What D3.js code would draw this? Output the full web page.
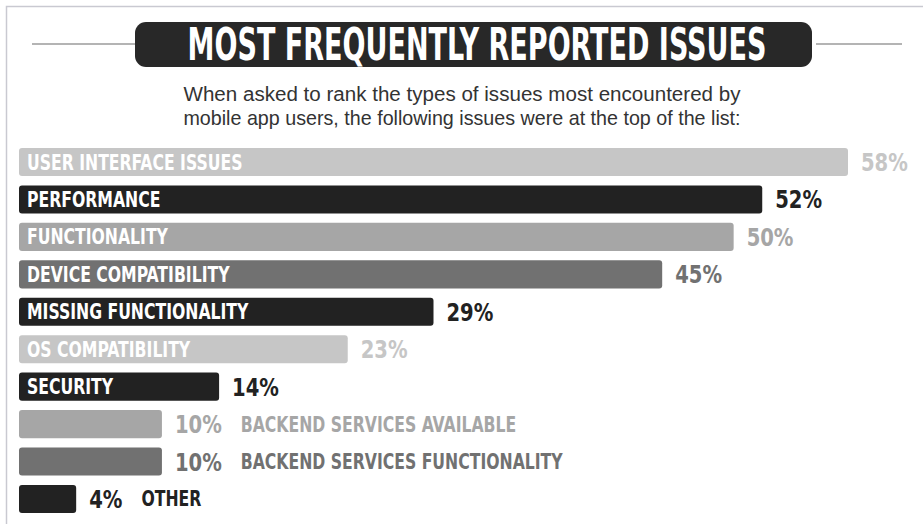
<!DOCTYPE html>
<html>
<head>
<meta charset="utf-8">
<script src="https://cdn.jsdelivr.net/npm/d3@7"></script>
<style>
  body { margin: 0; background: #fff; }
  svg { display: block; }
</style>
</head>
<body>
<div id="chart"></div>
<script>
// data
var titleText = "MOST FREQUENTLY REPORTED ISSUES";
var subtitleLines = [
  "When asked to rank the types of issues most encountered by",
  "mobile app users, the following issues were at the top of the list:"
];
var categories = [
  "USER INTERFACE ISSUES",
  "PERFORMANCE",
  "FUNCTIONALITY",
  "DEVICE COMPATIBILITY",
  "MISSING FUNCTIONALITY",
  "OS COMPATIBILITY",
  "SECURITY",
  "BACKEND SERVICES AVAILABLE",
  "BACKEND SERVICES FUNCTIONALITY",
  "OTHER"
];
var percents = [58, 52, 50, 45, 29, 23, 14, 10, 10, 4];

var data = categories.map(function(c, i) { return {name: c, value: percents[i]}; });

var width = 923, height = 524;
var condensed = "'Liberation Sans Narrow', 'DejaVu Sans Condensed', 'Roboto', sans-serif";

// squeeze a text horizontally around its own x
function squeeze(text, k) {
  var x0 = +text.attr("x");
  text.attr("transform", "translate(" + x0 + ",0) scale(" + k + ",1) translate(" + (-x0) + ",0)");
}

var svg = d3.select("#chart")
  .append("svg")
  .attr("width", width)
  .attr("height", height);

// light frame on top and left
svg.append("path")
  .attr("d", "M6.5,524V6.5H923")
  .attr("fill", "none")
  .attr("stroke", "#c9c9d1")
  .attr("stroke-width", 1.5);

// title pill with side rules
svg.append("line").attr("x1", 32).attr("x2", 135).attr("y1", 44).attr("y2", 44)
  .attr("stroke", "#b4b4b4").attr("stroke-width", 2);
svg.append("line").attr("x1", 816).attr("x2", 902).attr("y1", 44).attr("y2", 44)
  .attr("stroke", "#b4b4b4").attr("stroke-width", 2);

svg.append("rect")
  .attr("x", 135).attr("y", 22)
  .attr("width", 677).attr("height", 45)
  .attr("rx", 11)
  .attr("fill", "#282828");

var title = svg.append("text")
  .attr("x", 477).attr("y", 60)
  .attr("text-anchor", "middle")
  .attr("font-family", condensed)
  .attr("font-weight", "bold")
  .attr("font-size", 45)
  .attr("fill", "#fff")
  .text(titleText);
squeeze(title, 579 / title.node().getComputedTextLength());

// subtitle, both lines set to the same measure as in the original
svg.selectAll(".subtitle")
  .data(subtitleLines)
  .enter()
  .append("text")
    .attr("class", "subtitle")
    .attr("x", 462)
    .attr("y", function(d, i) { return 101 + i * 24; })
    .attr("text-anchor", "middle")
    .attr("font-family", "'Liberation Sans', Arial, sans-serif")
    .attr("font-size", 20.4)
    .attr("fill", "#333")
    .text(function(d) { return d; })
    .each(function() {
      var t = d3.select(this);
      squeeze(t, 557 / this.getComputedTextLength());
    });

// scales
var x = d3.scaleLinear()
  .domain([0, 58])
  .range([19, 848]);

var y = d3.scaleBand()
  .domain(categories)
  .range([148, 513])
  .paddingInner(0.25)
  .paddingOuter(0);

var shade = d3.scaleOrdinal()
  .domain(categories)
  .range(["#c6c6c6", "#222222", "#a6a6a6", "#717171", "#222222",
          "#c6c6c6", "#222222", "#a6a6a6", "#717171", "#222222"]);

var labelK = 0.83, valueK = 0.87;

var rows = svg.selectAll(".row")
  .data(data)
  .enter()
  .append("g")
    .attr("class", "row")
    .attr("transform", function(d) { return "translate(0," + y(d.name) + ")"; });

rows.append("rect")
  .attr("x", x(0))
  .attr("y", 0)
  .attr("width", function(d) { return x(d.value) - x(0); })
  .attr("height", y.bandwidth())
  .attr("rx", 3)
  .attr("fill", function(d) { return shade(d.name); });

var mid = y.bandwidth() / 2;

// value labels after the bar, category labels inside the bar when they fit
rows.each(function(d) {
  var g = d3.select(this);
  var barW = x(d.value) - x(0);

  var val = g.append("text")
    .attr("x", x(d.value) + 13)
    .attr("y", mid + 9)
    .attr("font-family", condensed)
    .attr("font-weight", "bold")
    .attr("font-size", 25)
    .attr("fill", shade(d.name))
    .text(d.value + "%");
  squeeze(val, valueK);
  var vEnd = x(d.value) + 13 + val.node().getComputedTextLength() * valueK;

  var label = g.append("text")
    .attr("y", mid + 7.5)
    .attr("font-family", condensed)
    .attr("font-weight", "bold")
    .attr("font-size", 21)
    .text(d.name);
  var w = label.node().getComputedTextLength() * labelK;
  if (w + 16 <= barW) {
    label.attr("x", x(0) + 8).attr("fill", "#fff");
  } else {
    label.attr("x", vEnd + 19).attr("fill", shade(d.name));
  }
  squeeze(label, labelK);
});
</script>
</body>
</html>
